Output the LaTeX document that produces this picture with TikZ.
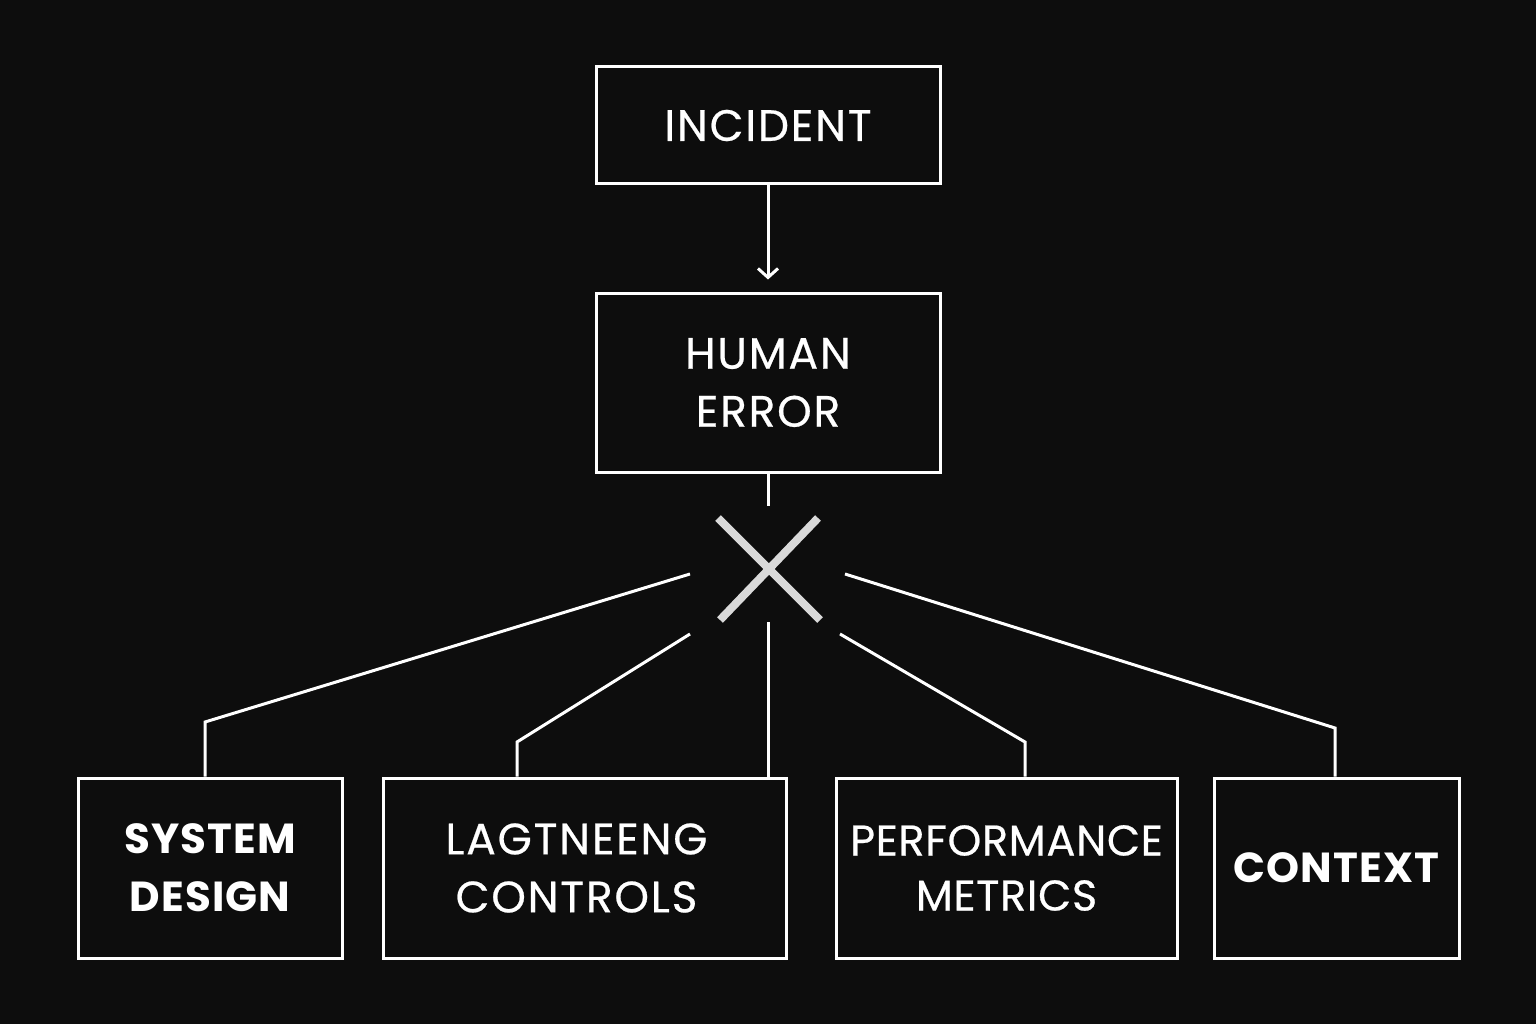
\documentclass[tikz,border=0pt]{standalone}
\usepackage{fontspec}
\setmainfont{Poppins}
\newfontfamily\lblfont[LetterSpace=4,FakeBold=0.5]{Poppins}
\newfontfamily\lblfonttight[LetterSpace=1.5,FakeBold=0.5]{Poppins}
\newfontfamily\lblbold[LetterSpace=2.5]{Poppins}
\usetikzlibrary{arrows.meta}
\begin{document}
\begin{tikzpicture}[x=1pt,y=-1pt,
  box/.style={draw=white, line width=3pt, inner sep=0pt, align=center, text=white,
    font=\lblfont\fontsize{44}{58}\selectfont},
  boldbox/.style={box, font=\lblbold\bfseries\fontsize{42}{58}\selectfont},
  conn/.style={draw=white, line width=3pt},
  cross/.style={draw=white!85!black, line width=8pt},
]
\fill[black!95] (0,0) rectangle (1536,1024);
\useasboundingbox (0,0) rectangle (1536,1024);

\node[box, minimum width=344pt, minimum height=117pt] (inc) at (768,125.5) {INCIDENT};
\node[box, minimum width=344pt, minimum height=179pt] (hum) at (768,382.5) {HUMAN\\ERROR};

\node[boldbox, minimum width=264pt, minimum height=180pt] (sys) at (210,868) {SYSTEM\\DESIGN};
\node[box, minimum width=403pt, minimum height=180pt] (lag) at (584.5,868) {\hspace*{-16pt}LAGTNEENG\\\hspace*{-16pt}CONTROLS};
\node[box, minimum width=341pt, minimum height=180pt, font=\lblfonttight\fontsize{43}{55}\selectfont] (perf) at (1006.5,868) {PERFORMANCE\\METRICS};
\node[boldbox, minimum width=245pt, minimum height=180pt] (ctx) at (1336.5,868) {CONTEXT};

% arrow incident -> human error
\draw[conn, -{Straight Barb[length=9pt,width=20pt,line width=3pt]}] (inc.south) -- ([yshift=12pt]hum.north);

% stub under human error
\coordinate (stub) at (768,506);
\draw[conn] (hum.south) -- (stub);

% the cross
\draw[cross] (718,518) -- (820,620);
\draw[cross] (818,518) -- (720,620);

% free ends near the cross
\coordinate (e1) at (690,574);
\coordinate (e2) at (690,634);
\coordinate (e3) at (768,622);
\coordinate (e4) at (840,634);
\coordinate (e5) at (845,574);

\draw[conn] (e1) -- (205,722) -- (sys.north -| 205,0);
\draw[conn] (e2) -- (517,742) -- (lag.north -| 517,0);
\draw[conn] (e3) -- (lag.north -| 768,0);
\draw[conn] (e4) -- (1025,742) -- (perf.north -| 1025,0);
\draw[conn] (e5) -- (1335,728) -- (ctx.north -| 1335,0);
\end{tikzpicture}
\end{document}
